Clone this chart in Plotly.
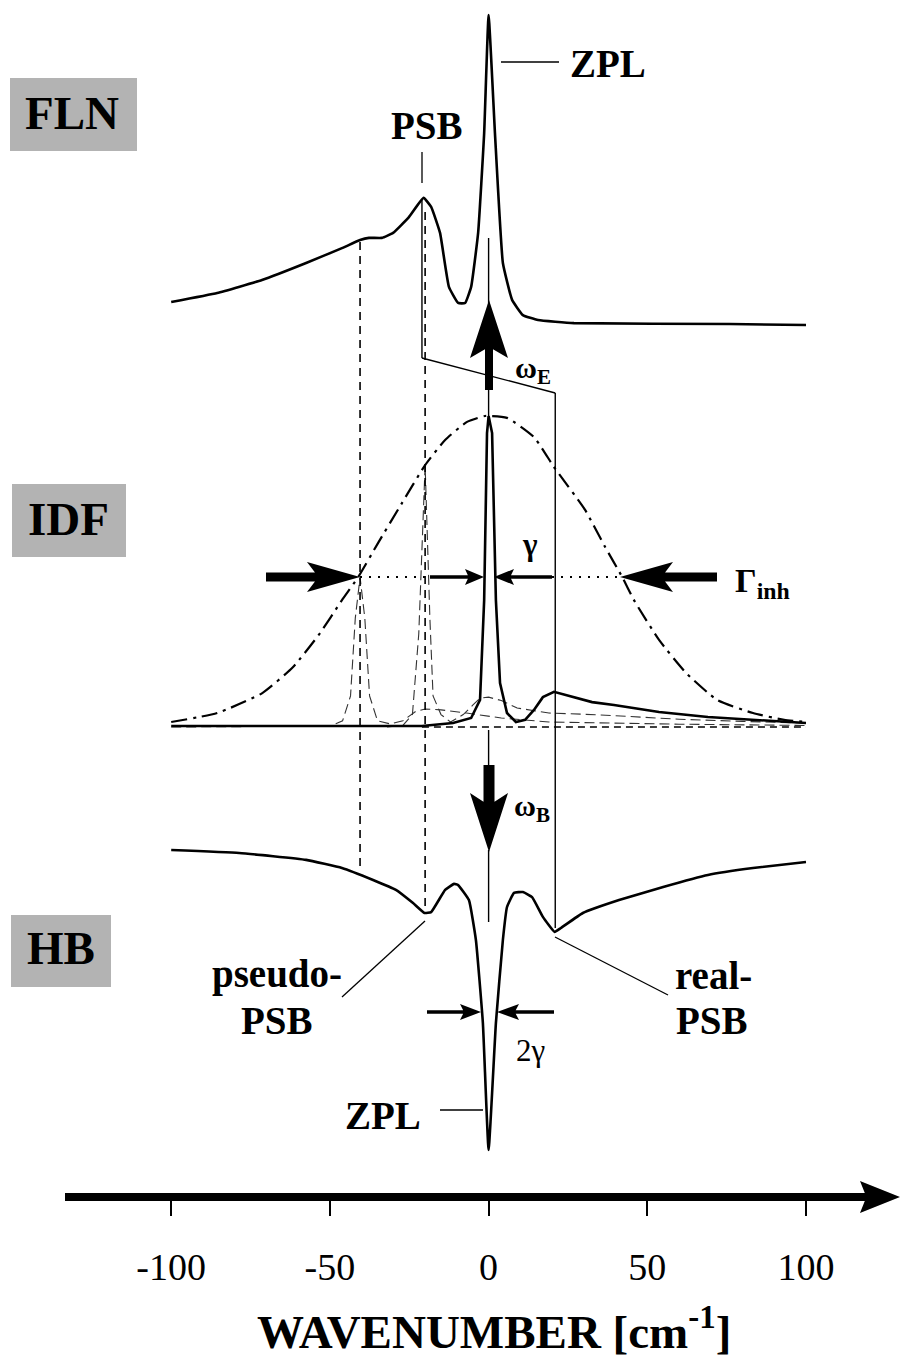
import math
import plotly.graph_objects as go

W, H = 902, 1358

# ---------------- data (wavenumber in cm-1, intensity a.u.) ----------------
# FLN spectrum (fluorescence line narrowing), ZPL peak = 1
fln_w = [-100, -85.5, -71.4, -57.5, -46.2, -40.5, -37.7, -33.6, -30.1, -25.1, -20.5, -18.1, -15.3,
         -12.5, -9.6, -7.4, -5.5, -3.3, -1.4, 0, 2.0, 4.5, 7.4, 10.8, 15.6, 26.9, 76, 100]
fln_i = [0.074, 0.103, 0.145, 0.200, 0.248, 0.274, 0.281, 0.281, 0.297, 0.348, 0.410, 0.381, 0.297,
         0.123, 0.071, 0.071, 0.123, 0.297, 0.619, 1.000, 0.619, 0.200, 0.081, 0.032, 0.016, 0.006, 0.003, 0.0]

# IDF: inhomogeneous distribution function (dash-dot envelope)
idf_w = [-100, -85.5, -71.3, -61.6, -53.1, -46.2, -41.1, -34.8, -27.3, -20.0, -13.7, -6.8, -1.1,
         5.8, 14.3, 20.6, 30.4, 36.7, 42.1, 45.8, 53.7, 62.2, 72, 83.3, 93.1, 100]
idf_i = [0.016, 0.045, 0.109, 0.193, 0.302, 0.408, 0.482, 0.592, 0.720, 0.842, 0.923, 0.981, 1.000,
         0.994, 0.932, 0.836, 0.698, 0.579, 0.482, 0.408, 0.280, 0.174, 0.087, 0.045, 0.023, 0.016]

# single-site spectrum at 0 (solid)
site0_w = [-100, -21, -11.2, -5.5, -2.7, -1.4, -0.5, 0, 1.1, 2.3, 3.6, 5.8, 8.6, 11.5, 14.3, 17.1,
           20.6, 24.1, 32.6, 39.5, 53.7, 69.1, 90.3, 100]
site0_i = [0.003, 0.003, 0.013, 0.029, 0.087, 0.408, 0.945, 1.000, 0.945, 0.408, 0.141, 0.045, 0.016,
           0.023, 0.055, 0.096, 0.113, 0.103, 0.080, 0.071, 0.048, 0.032, 0.019, 0.013]

# single-site spectra at -40 and -20 (thin dashed)
siteA_w = [-100, -50, -46, -43.5, -42, -40.5, -39, -37.5, -35, -31, -27, -23, -20, -15, -7, 4, 19, 35, 60, 100]
siteA_i = [0.0, 0.003, 0.02, 0.10, 0.35, 0.482, 0.35, 0.10, 0.02, 0.01, 0.02, 0.05, 0.058, 0.055,
           0.045, 0.029, 0.016, 0.013, 0.009, 0.005]
siteB_w = [-32, -27, -24, -22, -20, -18.5, -17.5, -15, -12, -8, -5, -2.7, 0, 4, 9, 19, 35, 60, 80, 100]
siteB_i = [0.0, 0.005, 0.04, 0.30, 0.842, 0.35, 0.10, 0.04, 0.016, 0.04, 0.07, 0.093, 0.096, 0.085,
           0.061, 0.045, 0.039, 0.025, 0.018, 0.013]
base_w = [-21, 100]
base_i = [0.0, 0.0]

# HB: hole-burning spectrum (negative), ZPL hole depth = -1
hb_w = [-100, -78.6, -57.5, -46.2, -36.4, -29.2, -23.8, -20.2, -18.1, -13.7, -10.9, -9.6, -6.2, -4.0,
        -1.8, 0, 2.3, 4.5, 5.8, 8.0, 10.8, 13.7, 17.1, 20.8, 22.8, 29.7, 41.1, 55, 69.1, 83.3, 100]
hb_i = [0.0, -0.010, -0.033, -0.060, -0.100, -0.133, -0.177, -0.210, -0.207, -0.133, -0.113, -0.117,
        -0.167, -0.300, -0.577, -1.000, -0.577, -0.300, -0.190, -0.143, -0.140, -0.157, -0.223, -0.273,
        -0.260, -0.210, -0.167, -0.123, -0.083, -0.060, -0.040]

tick_vals = [-100, -50, 0, 50, 100]
tick_labels = ["-100", "-50", "0", "50", "100"]
panel_labels = ["FLN", "IDF", "HB"]
dashed_links = [-40.5, -20]      # FLN features -> pseudo-PSB in HB
solid_links = [-21, 21]          # FLN PSB -> real-PSB in HB
zpl_pos = 0

# ---------------- layout helpers ----------------
X0, SX = 488.6, 3.174            # pixel of 0 cm-1, pixels per cm-1
xr = [(0 - X0) / SX, (W - X0) / SX]


def yrange(va, pa, vb, pb):
    k = (vb - va) / (pb - pa)
    return [va + (H - pa) * k, va + (0 - pa) * k]


def px(x, y):
    return x / W, 1 - y / H


FONT = "Liberation Serif"
shapes = []
annos = []


def line_px(x0, y0, x1, y1, width=1.3, dash=None, color="black"):
    a, b = px(x0, y0)
    c, d = px(x1, y1)
    ln = dict(color=color, width=width)
    if dash:
        ln["dash"] = dash
    shapes.append(dict(type="line", xref="paper", yref="paper", x0=a, y0=b, x1=c, y1=d, line=ln))


def vline_w(w, ya, yb, width=1.3, dash=None):
    ln = dict(color="black", width=width)
    if dash:
        ln["dash"] = dash
    shapes.append(dict(type="line", xref="x", yref="paper", x0=w, x1=w,
                       y0=1 - ya / H, y1=1 - yb / H, line=ln))


def arrow_px(x0, y0, x1, y1, shaft, head_len, head_half, notch=0.15):
    dx, dy = x1 - x0, y1 - y0
    L = math.hypot(dx, dy)
    ux, uy = dx / L, dy / L
    nx, ny = -uy, ux
    hbx, hby = x1 - ux * head_len, y1 - uy * head_len
    nbx, nby = hbx + ux * head_len * notch, hby + uy * head_len * notch
    s = shaft / 2
    pts = [(x1, y1),
           (hbx + nx * head_half, hby + ny * head_half),
           (nbx + nx * s, nby + ny * s),
           (x0 + nx * s, y0 + ny * s),
           (x0 - nx * s, y0 - ny * s),
           (nbx - nx * s, nby - ny * s),
           (hbx - nx * head_half, hby - ny * head_half)]
    path = ""
    for i, (x, y) in enumerate(pts):
        a, b = px(x, y)
        path += ("M" if i == 0 else "L") + f"{a:.5f},{b:.5f} "
    path += "Z"
    shapes.append(dict(type="path", xref="paper", yref="paper", path=path,
                       fillcolor="black", line=dict(width=0)))


def rect_px(x0, y0, x1, y1, color="#b3b3b3"):
    a, b = px(x0, y1)
    c, d = px(x1, y0)
    shapes.append(dict(type="rect", xref="paper", yref="paper", x0=a, y0=b, x1=c, y1=d,
                       fillcolor=color, line=dict(width=0), layer="below"))


def text_px(x, y, txt, size, bold=True, xanchor="center", yanchor="middle"):
    a, b = px(x, y)
    annos.append(dict(xref="paper", yref="paper", x=a, y=b, text=(f"<b>{txt}</b>" if bold else txt),
                      showarrow=False, xanchor=xanchor, yanchor=yanchor,
                      font=dict(family=FONT, size=size, color="black")))


# ---------------- traces ----------------
fig = go.Figure()
LW = 2.6
fig.add_trace(go.Scatter(x=fln_w, y=fln_i, yaxis="y", mode="lines",
                         line=dict(color="black", width=LW, shape="spline", smoothing=0.35),
                         hoverinfo="skip"))
fig.add_trace(go.Scatter(x=base_w, y=base_i, yaxis="y2", mode="lines",
                         line=dict(color="black", width=1.5, dash="7px,5px"), hoverinfo="skip"))
fig.add_trace(go.Scatter(x=siteA_w, y=siteA_i, yaxis="y2", mode="lines",
                         line=dict(color="#333333", width=1.1, dash="10px,5px"), hoverinfo="skip"))
fig.add_trace(go.Scatter(x=siteB_w, y=siteB_i, yaxis="y2", mode="lines",
                         line=dict(color="#333333", width=1.1, dash="10px,5px"), hoverinfo="skip"))
fig.add_trace(go.Scatter(x=idf_w, y=idf_i, yaxis="y2", mode="lines",
                         line=dict(color="black", width=2.2, dash="16px,6px,3px,6px",
                                   shape="spline", smoothing=0.5), hoverinfo="skip"))
fig.add_trace(go.Scatter(x=site0_w, y=site0_i, yaxis="y2", mode="lines",
                         line=dict(color="black", width=LW), hoverinfo="skip"))
fig.add_trace(go.Scatter(x=hb_w, y=hb_i, yaxis="y3", mode="lines",
                         line=dict(color="black", width=LW, shape="spline", smoothing=0.35),
                         hoverinfo="skip"))

# ---------------- connectors ----------------
vline_w(dashed_links[0], 242, 868, width=1.6, dash="8px,6px")
vline_w(dashed_links[1], 212, 910, width=1.6, dash="8px,6px")
vline_w(solid_links[0], 200, 358, width=1.4)
shapes.append(dict(type="line", xref="x", yref="paper", x0=solid_links[0], x1=solid_links[1],
                   y0=1 - 358 / H, y1=1 - 393 / H, line=dict(color="black", width=1.4)))
vline_w(solid_links[1], 393, 928, width=1.4)
vline_w(zpl_pos, 238, 420, width=1.4)
vline_w(zpl_pos, 730, 770, width=1.4)
vline_w(zpl_pos, 850, 922, width=1.4)

# arrows
arrow_px(489, 390, 489, 300, 8, 58, 19)          # omega_E
arrow_px(489, 765, 489, 852, 11, 59, 19)         # omega_B
arrow_px(266, 577, 360, 577, 9, 53, 15)          # Gamma_inh left
arrow_px(717, 577, 620, 577, 9, 53, 15)          # Gamma_inh right
arrow_px(430, 577, 484, 577, 3.5, 19, 8)         # gamma left
arrow_px(552, 577, 494, 577, 3.5, 20, 8)         # gamma right
arrow_px(427, 1012, 481, 1012, 3.5, 21, 8)       # 2gamma left
arrow_px(554, 1012, 497, 1012, 3.5, 22, 8)       # 2gamma right
# dotted half-max line
line_px(360, 577, 430, 577, width=2, dash="2px,7px")
line_px(552, 577, 620, 577, width=2, dash="2px,7px")

# leader lines
line_px(501, 62, 559, 62)
line_px(422, 152, 422, 183)
line_px(425, 921, 342, 997)
line_px(555, 937, 668, 995)
line_px(440, 1110, 483, 1110)

# wavenumber axis arrow
line_px(65, 1197, 875, 1197, width=8)
arrow_px(860, 1197, 900, 1197, 8, 40, 16, notch=0.12)

# panel label boxes
rect_px(10, 78, 137, 151)
rect_px(12, 484, 126, 557)
rect_px(11, 915, 111, 987)
text_px(72, 113, panel_labels[0], 47)
text_px(68, 519, panel_labels[1], 47)
text_px(61, 948, panel_labels[2], 47)

# labels
text_px(568, 63, "ZPL", 39, xanchor="left")
text_px(427, 125, "PSB", 39)
text_px(513, 370, "ω<sub>E</sub>", 30, xanchor="left")
text_px(512, 808, "ω<sub>B</sub>", 30, xanchor="left")
text_px(530, 544, "γ", 31)
text_px(733, 583, "Γ<sub>inh</sub>", 34, xanchor="left")
text_px(530, 1050, "2γ", 31, bold=False)
text_px(277, 974, "pseudo-", 39)
text_px(277, 1020, "PSB", 39)
text_px(713, 975, "real-", 39)
text_px(712, 1020, "PSB", 39)
text_px(423, 1115, "ZPL", 39, xanchor="right")
text_px(494, 1328, "WAVENUMBER [cm<sup>-1</sup>]", 47)

fig.update_layout(
    width=W, height=H, autosize=False,
    margin=dict(l=0, r=0, t=0, b=0, pad=0),
    paper_bgcolor="white", plot_bgcolor="white",
    showlegend=False,
    xaxis=dict(range=xr, anchor="free", position=1 - 1197 / H, side="bottom",
               showgrid=False, zeroline=False, showline=False,
               tickmode="array", tickvals=tick_vals, ticktext=tick_labels,
               ticks="outside", ticklen=18, tickwidth=2, tickcolor="black",
               ticklabelstandoff=18,
               tickfont=dict(family=FONT, size=38, color="black"), fixedrange=True),
    yaxis=dict(range=yrange(0, 325, 1, 15), visible=False, fixedrange=True),
    yaxis2=dict(range=yrange(0, 727, 1, 416), overlaying="y", visible=False, fixedrange=True),
    yaxis3=dict(range=yrange(0, 850, -1, 1150), overlaying="y", visible=False, fixedrange=True),
    shapes=shapes, annotations=annos,
)

fig.write_html("out.html")
